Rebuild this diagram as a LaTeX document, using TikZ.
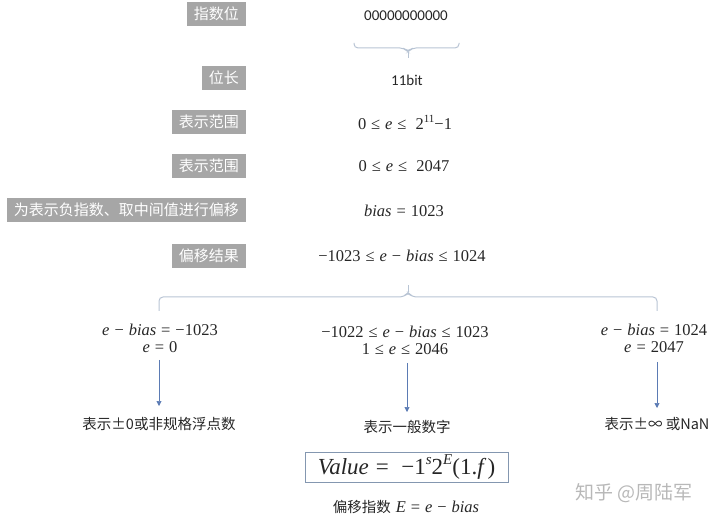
\documentclass[tikz,border=0pt]{standalone}
\usepackage{fontspec}
\setmainfont{Carlito}
\newfontfamily\cjk{Noto Sans CJK SC}
\newfontfamily\mf{Liberation Serif}
\usetikzlibrary{arrows.meta}
\definecolor{boxgrey}{HTML}{A6A6A6}
\definecolor{arrblue}{HTML}{5B7BB4}
\definecolor{bracec}{HTML}{B8C4D4}
\definecolor{frameblue}{HTML}{8497B0}
\definecolor{txt}{HTML}{262626}
\newcommand\vi[1]{{\itshape #1}}
\newcommand\rl[1]{\hspace{0.3em}#1\hspace{0.3em}}
\newcommand\sps[1]{\raisebox{0.42em}{\fontsize{11}{12}\selectfont #1}}
\newcommand\spb[1]{\raisebox{0.42em}{\fontsize{15}{16}\selectfont #1}}
\tikzset{
  greylabel/.style={fill=boxgrey, text=white, font=\cjk\fontsize{15}{18}\selectfont, inner xsep=7pt, inner ysep=0pt, minimum height=24pt, anchor=east},
  mathtxt/.style={font=\mf\fontsize{16.5}{18}\selectfont, text=txt, inner sep=0pt, align=center},
  plain/.style={font=\fontsize{15}{18}\selectfont, text=txt, inner sep=0pt},
  cjktxt/.style={font=\cjk\fontsize{14.5}{17}\selectfont, text=txt, inner sep=0pt},
  arr/.style={draw=arrblue, line width=0.6pt, -{Triangle[width=5pt,length=5pt]}},
  bracepath/.style={draw=bracec, line width=1pt, rounded corners=4pt}
}
\begin{document}
\begin{tikzpicture}[x=1pt,y=-1pt]
\useasboundingbox (0,0) rectangle (720,526);
% left labels
\node[greylabel] (l1) at (246,14) {指数位};
\node[greylabel] (l2) at (246,78) {位长};
\node[greylabel] (l3) at (246,122) {表示范围};
\node[greylabel] (l4) at (246,166) {表示范围};
\node[greylabel] (l5) at (246,210) {为表示负指数、取中间值进行偏移};
\node[greylabel] (l6) at (246,256) {偏移结果};
% right column
\node[plain] (r1) at (406,16) {00000000000};
\draw[bracepath] (354,43) -- (354,48) -- (404,48) -- (408,52) -- (412,48) -- (459,48) -- (459,43);
\draw[bracepath] (408,52) -- (408,58);
\node[plain] (r2) at (407,80) {11bit};
\node[mathtxt] (r3) at (405,122) {0\rl{≤}\vi{e}\rl{≤}\ 2\sps{11}−1};
\node[mathtxt] (r4) at (404,166) {0\rl{≤}\vi{e}\rl{≤}\ 2047};
\node[mathtxt] (r5) at (404,211) {\vi{bias}\rl{=}1023};
\node[mathtxt] (r6) at (402,256) {−1023\rl{≤}\vi{e}\rl{−}\vi{bias}\rl{≤}1024};
% big brace
\draw[bracepath] (159,311) -- (159,297) -- (404,297) -- (408,292) -- (412,297) -- (657,297) -- (657,311);
\draw[bracepath] (408,292) -- (408,285);
% three cases
\node[mathtxt] (c1) at (160,338) {\vi{e}\rl{−}\vi{bias}\rl{=}−1023\\[-1pt]\vi{e}\rl{=}0};
\node[mathtxt] (c2) at (405,340) {−1022\rl{≤}\vi{e}\rl{−}\vi{bias}\rl{≤}1023\\[-1pt]1\rl{≤}\vi{e}\rl{≤}2046};
\node[mathtxt] (c3) at (654,338) {\vi{e}\rl{−}\vi{bias}\rl{=}1024\\[-1pt]\vi{e}\rl{=}2047};
\node[cjktxt] (d1) at (159,424) {表示±0或非规格浮点数};
\node[cjktxt] (d2) at (407,427) {表示一般数字};
\node[cjktxt] (d3) at (657,424) {表示±∞ 或NaN};
\coordinate (a1s) at (159,360); \coordinate (a1e) at (159,406);
\coordinate (a2s) at (407,363); \coordinate (a2e) at (407,412);
\coordinate (a3s) at (657,362); \coordinate (a3e) at (657,408);
\draw[arr] (a1s) -- (a1e);
\draw[arr] (a2s) -- (a2e);
\draw[arr] (a3s) -- (a3e);
% formula
\node[draw=frameblue, line width=1pt, minimum width=203pt, minimum height=30pt, inner sep=0pt, text=txt, font=\mf\fontsize{23}{24}\selectfont] (f) at (406.5,467) {\vi{Value}\rl{=}\ −1\spb{\vi{s}}2\spb{\vi{E}}(1.\vi{f}\,)};
\node[inner sep=0pt, text=txt] (g) at (406,507) {{\cjk\fontsize{14.5}{17}\selectfont 偏移指数}\hspace{5pt}{\mf\fontsize{16.5}{18}\selectfont\vi{E}\rl{=}\vi{e}\rl{−}\vi{bias}}};
% watermark
\node[inner sep=0pt, text=black!28, font=\cjk\fontsize{19}{22}\selectfont] (w) at (634,493) {知乎 @周陆军};
\end{tikzpicture}
\end{document}
